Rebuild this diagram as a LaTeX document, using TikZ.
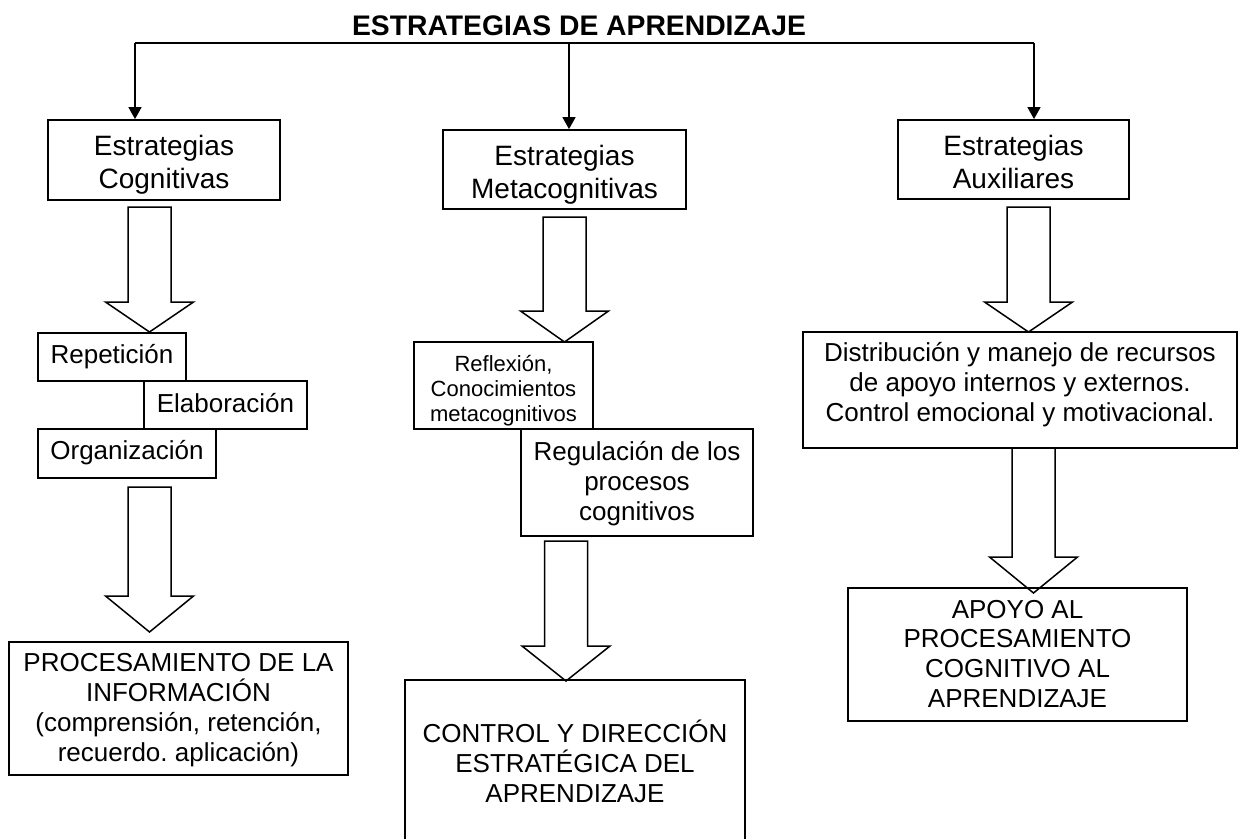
\documentclass[tikz,border=0pt]{standalone}
\usepackage{fontspec}
\setmainfont{Liberation Sans}
\usetikzlibrary{arrows.meta}
\frenchspacing
\newcommand\mybarrow[4]{%
  \draw[barrow] ({#1-21.5},#2) -- ({#1+21.5},#2) -- ({#1+21.5},#3) -- ({#1+44},#3)
    -- (#1,#4) -- ({#1-44},#3) -- ({#1-21.5},#3) -- cycle;}
\begin{document}
\begin{tikzpicture}[x=1pt,y=-1pt,
  box/.style={draw, line width=1.8pt, inner sep=0pt, anchor=base, align=center},
  hfont/.style={font=\fontsize{28}{33}\selectfont},
  bfont/.style={font=\fontsize{26}{29.8}\selectfont},
  sfont/.style={font=\fontsize{22}{25}\selectfont},
  conn/.style={line width=1.5pt, -{Triangle[width=13pt,length=12pt]}},
  barrow/.style={line width=1.5pt, line join=miter}]
\useasboundingbox (0,0) rectangle (1239,838);

% title
\node[font=\bfseries\fontsize{28.3}{33}\selectfont, anchor=base, inner sep=0pt] (title) at (579,35) {ESTRATEGIAS DE APRENDIZAJE};

% header boxes (anchor = baseline of last line)
\node[box,hfont,minimum width=232pt,text height=68pt,text depth=12pt] (c1) at (164,188) {Estrategias\\Cognitivas};
\node[box,hfont,minimum width=243pt,text height=68pt,text depth=11pt] (c2) at (564.5,198) {Estrategias\\Metacognitivas};
\node[box,hfont,minimum width=231pt,text height=68pt,text depth=11pt] (c3) at (1013.5,188) {Estrategias\\Auxiliares};

% connectors
\coordinate (jL) at (135,43);
\coordinate (jM) at (569,43);
\coordinate (jR) at (1034,43);
\draw[line width=1.5pt] (jL) -- (jR);
\draw[conn] (jL) -- (jL |- c1.north);
\draw[conn] (jM) -- (jM |- c2.north);
\draw[conn] (jR) -- (jR |- c3.north);

% left column
\node[box,bfont,minimum width=148pt,text height=30pt,text depth=18pt] (rep) at (112,363) {Repetición};
\node[box,bfont,minimum width=163pt,text height=31pt,text depth=17pt] (ela) at (225.5,412) {Elaboración};
\node[box,bfont,minimum width=178pt,text height=30pt,text depth=19pt] (org) at (127,459) {Organización};
\node[box,bfont,minimum width=339pt,text height=119pt,text depth=14pt] (proc) at (178.5,761) {PROCESAMIENTO DE LA\\INFORMACIÓN\\(comprensión, retención,\\recuerdo. aplicación)};

% middle column
\node[box,sfont,minimum width=179pt,text height=79pt,text depth=8pt] (refl) at (503.5,421) {Reflexión,\\Conocimientos\\metacognitivos};
\node[box,bfont,minimum width=232pt,text height=91pt,text depth=16pt] (reg) at (637,520) {Regulación de los\\procesos\\cognitivos};
\node[box,bfont,draw=none,minimum width=338pt,text height=121pt,text depth=36pt] (ctrl) at (575,802) {CONTROL Y DIRECCIÓN\\ESTRATÉGICA DEL\\APRENDIZAJE};
\draw[line width=1.8pt] (ctrl.south west) -- (ctrl.north west) -- (ctrl.north east) -- (ctrl.south east);

% right column
\node[box,bfont,minimum width=434pt,text height=89.5pt,text depth=26.5pt] (dist) at (1020,421.5) {Distribución y manejo de recursos\\de apoyo internos y externos.\\Control emocional y motivacional.};
\node[box,bfont,minimum width=339pt,text height=119.4pt,text depth=13.6pt] (apoyo) at (1017.5,707.4) {APOYO AL\\PROCESAMIENTO\\COGNITIVO AL\\APRENDIZAJE};

% block arrows
\mybarrow{149.5}{207}{302}{332}
\mybarrow{564.5}{217}{311}{342}
\mybarrow{1028.5}{207}{302}{332}
\mybarrow{1033.5}{448}{557}{593}
\mybarrow{149.5}{487}{596}{632}
\mybarrow{566}{541}{646}{681}
\end{tikzpicture}
\end{document}
